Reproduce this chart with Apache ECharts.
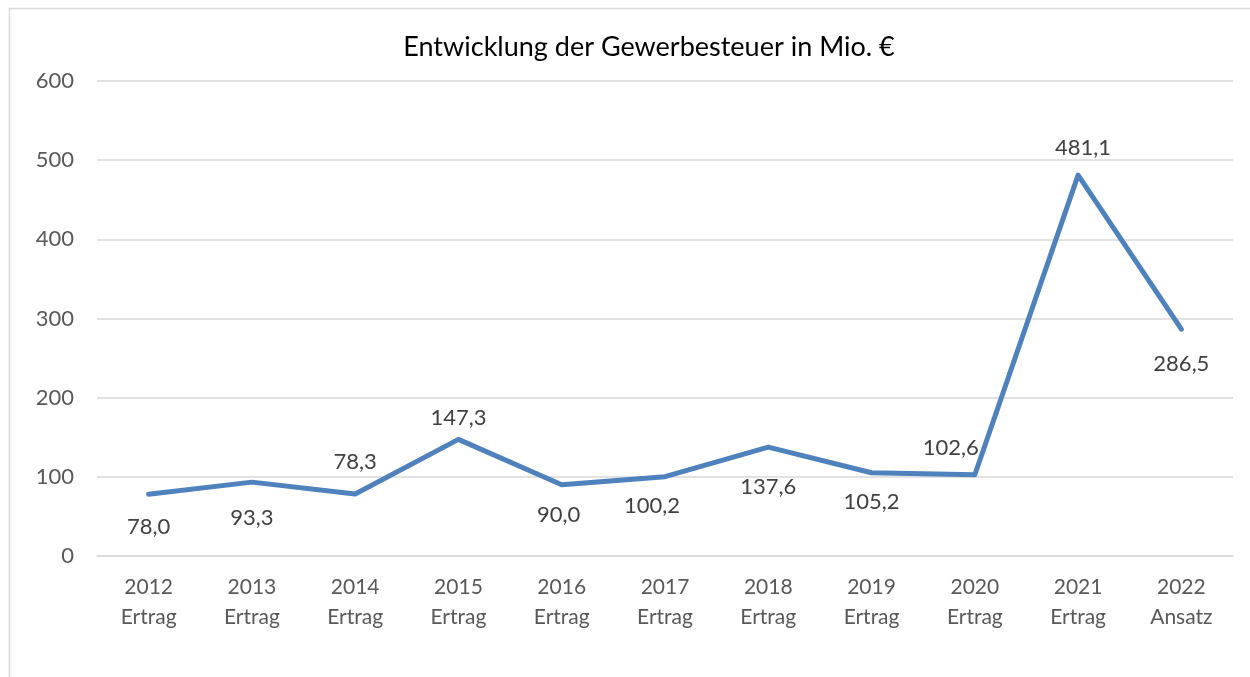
<!DOCTYPE html>
<html>
<head>
<meta charset="utf-8">
<script src="https://cdn.jsdelivr.net/npm/echarts@6/dist/echarts.min.js"></script>
<style>html,body{margin:0;padding:0;background:#fff}#c{width:1250px;height:677px}</style>
</head>
<body>
<div id="c"></div>
<script>
const titleText = 'Entwicklung der Gewerbesteuer in Mio. €';
const categories = ['2012\nErtrag','2013\nErtrag','2014\nErtrag','2015\nErtrag','2016\nErtrag','2017\nErtrag','2018\nErtrag','2019\nErtrag','2020\nErtrag','2021\nErtrag','2022\nAnsatz'];
const values = [78.0, 93.3, 78.3, 147.3, 90.0, 100.2, 137.6, 105.2, 102.6, 481.1, 286.5];
const yTicks = [0, 100, 200, 300, 400, 500, 600];
// label offsets (styling only)
const labelOffsets = [[0,33],[0,36],[0,-32],[0,-21],[-3,30],[-13,29],[0,40],[0,29],[-24,-27],[5,-27],[0,35]];

const FONT = 'Lato, "Open Sans", sans-serif';
const chart = echarts.init(document.getElementById('c'), null, {renderer:'canvas'});
chart.setOption({
  backgroundColor: '#fff',
  animation: false,
  graphic: [{
    type: 'rect', left: 7, top: 6, silent: true,
    shape: {width: 1260, height: 690},
    style: {fill: 'none', stroke: '#d9d9d9', lineWidth: 1.5}
  }],
  title: {
    text: titleText, left: 644, top: 29, textAlign: 'center',
    textStyle: {fontFamily: FONT, fontSize: 27, fontWeight: 'normal', color: '#000'}
  },
  grid: {left: 97, right: 17, top: 81, bottom: 121, containLabel: false},
  xAxis: {
    type: 'category', data: categories, boundaryGap: true,
    axisLine: {show: true, lineStyle: {color: '#d9d9d9', width: 1.5}},
    axisTick: {show: false},
    axisLabel: {fontFamily: FONT, fontSize: 21, color: '#595959', lineHeight: 30, margin: 16, interval: 0}
  },
  yAxis: {
    type: 'value', min: yTicks[0], max: yTicks[yTicks.length-1], interval: 100,
    axisLine: {show: false}, axisTick: {show: false},
    splitLine: {lineStyle: {color: '#d9d9d9', width: 1.5}},
    axisLabel: {fontFamily: FONT, fontSize: 22, color: '#595959', margin: 23}
  },
  series: [{
    type: 'line',
    data: values.map((v, i) => ({
      value: v,
      label: {offset: labelOffsets[i]}
    })),
    symbol: 'circle', symbolSize: 0.01, showSymbol: true,
    lineStyle: {color: '#4f81bd', width: 5, cap: 'round', join: 'round'},
    itemStyle: {color: '#4f81bd'},
    label: {
      show: true, position: 'inside',
      fontFamily: FONT, fontSize: 22, color: '#404040',
      formatter: p => p.value.toFixed(1).replace('.', ',')
    }
  }]
});
</script>
</body>
</html>
